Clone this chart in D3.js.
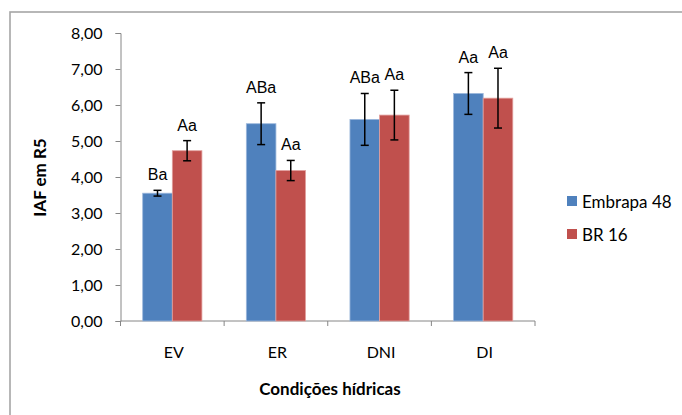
<!DOCTYPE html>
<html>
<head>
<meta charset="utf-8">
<script src="https://cdn.jsdelivr.net/npm/d3@7"></script>
<style>
  body { margin: 0; background: #fff; }
  svg { display: block; }
</style>
</head>
<body>
<div class="chart"></div>
<script>
var width = 682
var height = 415
var categories = ["EV", "ER", "DNI", "DI"];
var series = ["Embrapa 48", "BR 16"];
var embrapaValues = [3.55, 5.48, 5.60, 6.32];
var embrapaErrors = [0.08, 0.58, 0.72, 0.58];
var embrapaLabels = ["Ba", "ABa", "ABa", "Aa"];
var brValues = [4.73, 4.18, 5.72, 6.19];
var brErrors = [0.28, 0.28, 0.69, 0.83];
var brLabels = ["Aa", "Aa", "Aa", "Aa"];
var yTicks = [0, 1, 2, 3, 4, 5, 6, 7, 8];
var colors = ["#4F81BD", "#C0504D"];
var outlines = ["#9bb7dc", "#e2a09e"];

var axisColor = "#868686";
var tickFont = "Lato, 'Open Sans', sans-serif";

var svg = d3.select(".chart").append("svg")
    .attr("width", width)
    .attr("height", height);

// chart area frame
svg.append("rect")
    .attr("x", 10)
    .attr("y", 12)
    .attr("width", width + 20)
    .attr("height", height + 20)
    .attr("fill", "#fff")
    .attr("stroke", "#a6a6a6")
    .attr("stroke-width", 1.6);

var x = d3.scaleBand()
    .domain(categories)
    .range([120.5, 535])
    .padding(0);

var xSub = d3.scaleBand()
    .domain(series)
    .range([0, x.bandwidth()])
    .paddingInner(0)
    .paddingOuter(0.75);

var y = d3.scaleLinear()
    .domain([0, 8])
    .range([321, 33]);

var rows = categories.map(function(c, i) {
  return {
    cat: c,
    bars: [
      {s: series[0], v: embrapaValues[i], e: embrapaErrors[i], l: embrapaLabels[i], k: 0},
      {s: series[1], v: brValues[i], e: brErrors[i], l: brLabels[i], k: 1}
    ]
  };
});

// y axis
var yAxis = d3.axisLeft(y)
    .tickValues(yTicks)
    .tickSize(5)
    .tickPadding(13)
    .tickFormat(function(d) { return d3.format(".2f")(d).replace(".", ","); });

var gy = svg.append("g")
    .attr("transform", "translate(" + x.range()[0] + ",0)")
    .call(yAxis);
gy.select(".domain").attr("stroke", axisColor);
gy.selectAll(".tick line").attr("stroke", axisColor);
gy.selectAll(".tick text")
    .attr("fill", "#000")
    .style("font-family", tickFont)
    .style("font-size", "16px");

// x axis line + ticks between categories
var xBase = y(0);
svg.append("line")
    .attr("x1", x.range()[0]).attr("x2", x.range()[1])
    .attr("y1", xBase).attr("y2", xBase)
    .attr("stroke", axisColor);

var bounds = categories.map(function(c) { return x(c); }).concat([x.range()[1]]);
svg.selectAll(".xtick")
    .data(bounds)
    .enter().append("line")
    .attr("class", "xtick")
    .attr("x1", function(d) { return d; })
    .attr("x2", function(d) { return d; })
    .attr("y1", xBase)
    .attr("y2", xBase + 5)
    .attr("stroke", axisColor);

svg.selectAll(".xlabel")
    .data(categories)
    .enter().append("text")
    .attr("class", "xlabel")
    .attr("x", function(d) { return x(d) + x.bandwidth() / 2 + 1.5; })
    .attr("y", 351.5)
    .attr("text-anchor", "middle")
    .attr("dominant-baseline", "central")
    .style("font-family", tickFont)
    .style("font-size", "16px")
    .text(function(d) { return d; });

// bars
var group = svg.selectAll(".group")
    .data(rows)
    .enter().append("g")
    .attr("class", "group")
    .attr("transform", function(d) { return "translate(" + x(d.cat) + ",0)"; });

group.selectAll("rect")
    .data(function(d) { return d.bars; })
    .enter().append("rect")
    .attr("x", function(d) { return xSub(d.s); })
    .attr("y", function(d) { return y(d.v); })
    .attr("width", xSub.bandwidth())
    .attr("height", function(d) { return y(0) - y(d.v); })
    .attr("fill", function(d) { return colors[d.k]; })
    .attr("stroke", function(d) { return outlines[d.k]; })
    .attr("stroke-width", 0.8);

// error bars
var err = group.selectAll(".err")
    .data(function(d) { return d.bars; })
    .enter().append("g")
    .attr("class", "err")
    .attr("transform", function(d) { return "translate(" + (xSub(d.s) + xSub.bandwidth() / 2) + ",0)"; });

err.append("line")
    .attr("y1", function(d) { return y(d.v + d.e); })
    .attr("y2", function(d) { return y(d.v - d.e); })
    .attr("stroke", "#000")
    .attr("stroke-width", 1.5);
err.append("line")
    .attr("x1", -4).attr("x2", 4)
    .attr("y1", function(d) { return y(d.v + d.e); })
    .attr("y2", function(d) { return y(d.v + d.e); })
    .attr("stroke", "#000")
    .attr("stroke-width", 1.5);
err.append("line")
    .attr("x1", -4).attr("x2", 4)
    .attr("y1", function(d) { return y(d.v - d.e); })
    .attr("y2", function(d) { return y(d.v - d.e); })
    .attr("stroke", "#000")
    .attr("stroke-width", 1.5);

// letter labels above error bars
err.append("text")
    .attr("y", function(d) { return y(d.v + d.e) - 10; })
    .attr("text-anchor", "middle")
    .style("font-family", "'Liberation Sans', Arial, sans-serif")
    .style("font-size", "16px")
    .attr("fill", "#000")
    .text(function(d) { return d.l; });

// axis titles
svg.append("text")
    .attr("x", 330)
    .attr("y", 388)
    .attr("text-anchor", "middle")
    .attr("dominant-baseline", "central")
    .style("font-family", tickFont)
    .style("font-size", "17px")
    .style("font-weight", "bold")
    .text("Condições hídricas");

svg.append("text")
    .attr("transform", "translate(39,177.5) rotate(-90)")
    .attr("text-anchor", "middle")
    .attr("dominant-baseline", "central")
    .style("font-family", tickFont)
    .style("font-size", "17px")
    .style("font-weight", "bold")
    .text("IAF em R5");

// legend
var legend = svg.selectAll(".legend")
    .data(series)
    .enter().append("g")
    .attr("class", "legend")
    .attr("transform", function(d, i) { return "translate(567," + (201 + i * 33) + ")"; });

legend.append("rect")
    .attr("x", 0)
    .attr("y", -5)
    .attr("width", 10)
    .attr("height", 10)
    .attr("fill", function(d, i) { return colors[i]; });

legend.append("text")
    .attr("x", 15)
    .attr("y", 0)
    .attr("dominant-baseline", "central")
    .style("font-family", tickFont)
    .style("font-size", "17px")
    .text(function(d) { return d; });
</script>
</body>
</html>
